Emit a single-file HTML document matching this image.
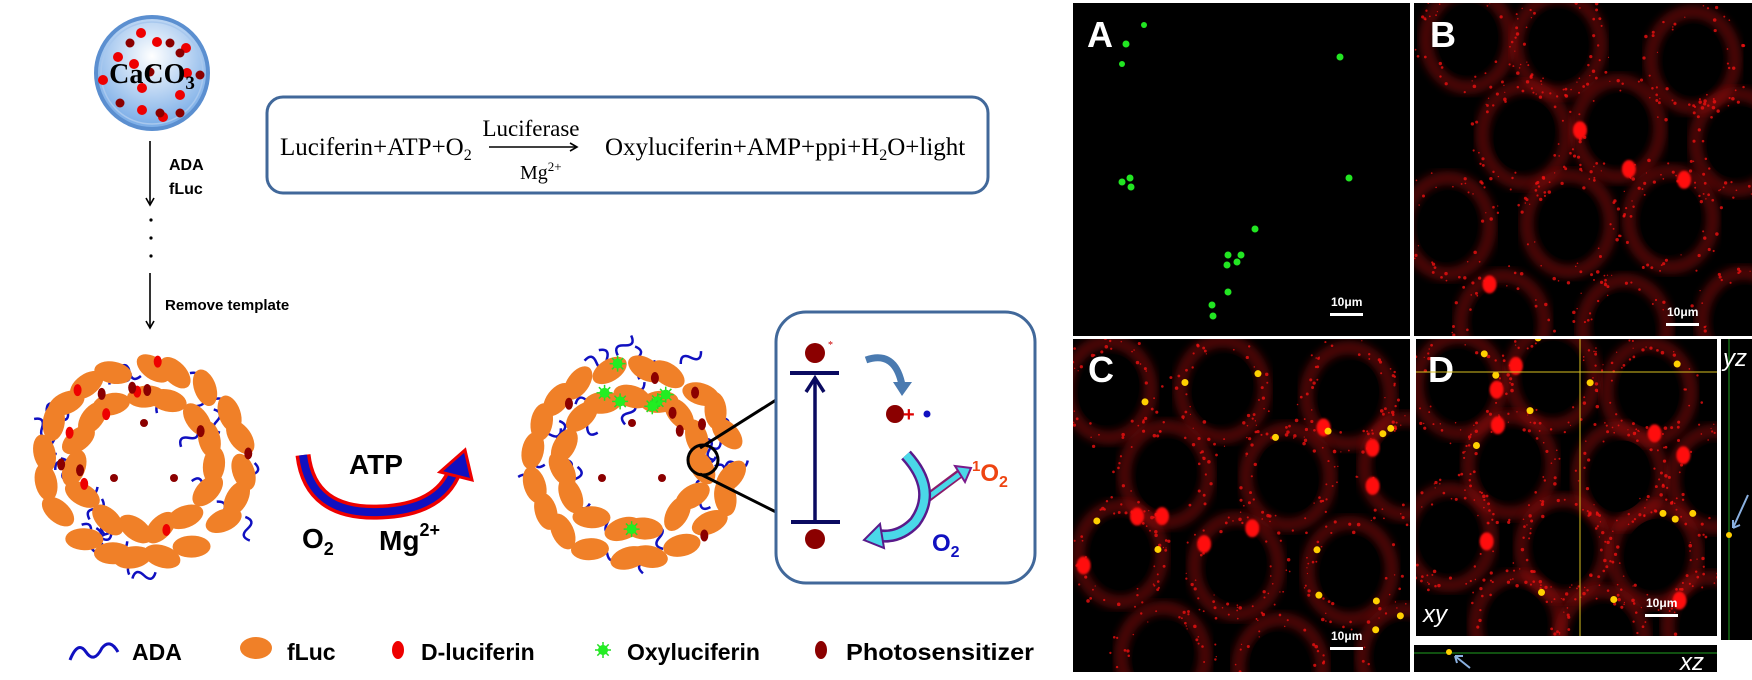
<!DOCTYPE html>
<html><head><meta charset="utf-8"><style>
html,body{margin:0;padding:0;background:#fff;width:1752px;height:680px;overflow:hidden;}
svg{display:block;}
.b{font-family:"Liberation Sans",Arial,sans-serif;font-weight:bold;}
.t{font-family:"Liberation Serif","Times New Roman",serif;}
</style></head><body>
<svg id="s" width="1752" height="680" viewBox="0 0 1752 680" xmlns="http://www.w3.org/2000/svg" style="overflow:hidden">
<defs>
<radialGradient id="cg" cx="50%" cy="35%" r="60%"><stop offset="0" stop-color="#ffffff"/><stop offset="1" stop-color="#7fb0e8"/></radialGradient>
<filter id="bl"><feGaussianBlur stdDeviation="4"/></filter>
<filter id="bl2"><feGaussianBlur stdDeviation="1"/></filter>
<marker id="ah" markerWidth="10" markerHeight="10" refX="8" refY="5" orient="auto" markerUnits="userSpaceOnUse"><path d="M1,1 L8,5 L1,9" fill="none" stroke="#000" stroke-width="1.6"/></marker>
</defs>
<circle cx="152" cy="73" r="56" fill="url(#cg)" stroke="#5b8fd0" stroke-width="4"/>
<circle cx="152" cy="73" r="51" fill="none" stroke="#a8c8ee" stroke-width="1.5"/>
<g fill="#ee0000">
<circle cx="141" cy="33" r="5"/><circle cx="157" cy="42" r="5"/><circle cx="186" cy="48" r="5"/><circle cx="118" cy="57" r="5"/><circle cx="134" cy="64" r="5"/><circle cx="187" cy="73" r="5"/><circle cx="103" cy="80" r="5"/><circle cx="142" cy="88" r="5"/><circle cx="180" cy="95" r="5"/><circle cx="142" cy="110" r="5"/><circle cx="163" cy="117" r="5"/></g>
<g fill="#8b0000"><circle cx="130" cy="43" r="4.5"/><circle cx="170" cy="43" r="4.5"/><circle cx="180" cy="53" r="4.5"/><circle cx="200" cy="75" r="4.5"/><circle cx="150" cy="72" r="4.5"/><circle cx="120" cy="103" r="4.5"/><circle cx="160" cy="113" r="4.5"/><circle cx="180" cy="113" r="4.5"/></g>
<text x="152" y="83" text-anchor="middle" class="t" font-weight="bold" font-size="28">CaCO<tspan font-size="19" dy="6">3</tspan></text>
<line x1="150" y1="141" x2="150" y2="205" stroke="#000" stroke-width="1.6" marker-end="url(#ah)"/>
<text x="169" y="170" class="b" font-size="16">ADA</text>
<text x="169" y="194" class="b" font-size="16">fLuc</text>
<circle cx="151" cy="220" r="1.6"/><circle cx="151" cy="238" r="1.6"/><circle cx="151" cy="256" r="1.6"/>
<line x1="150" y1="273" x2="150" y2="328" stroke="#000" stroke-width="1.6" marker-end="url(#ah)"/>
<text x="165" y="310" class="b" font-size="15">Remove template</text>
<rect x="267" y="97" width="721" height="96" rx="16" fill="#fff" stroke="#41689a" stroke-width="3"/>
<text x="280" y="155" class="t" font-size="25">Luciferin+ATP+O<tspan font-size="16" dy="5">2</tspan></text>
<text x="531" y="136" class="t" font-size="23" text-anchor="middle">Luciferase</text>
<line x1="489" y1="147" x2="577" y2="147" stroke="#000" stroke-width="1.5" marker-end="url(#ah)"/>
<text x="520" y="179" class="t" font-size="20">Mg<tspan font-size="13" dy="-8">2+</tspan></text>
<text x="605" y="155" class="t" font-size="25">Oxyluciferin+AMP+ppi+H<tspan font-size="16" dy="5">2</tspan><tspan dy="-5">O+light</tspan></text>
<g id="cap1"></g><g id="cap2"></g>
<path d="M303,455 Q310,515 380,512 Q440,510 455,470" fill="none" stroke="#e00" stroke-width="15"/>
<path d="M303,455 Q310,515 380,512 Q440,510 455,470" fill="none" stroke="#1010c0" stroke-width="8"/>
<polygon points="440,472 465,450 472,480" fill="#1010c0" stroke="#e00" stroke-width="3"/>
<text x="376" y="474" class="b" font-size="28" text-anchor="middle">ATP</text>
<text x="302" y="548" class="b" font-size="28">O<tspan font-size="18" dy="7">2</tspan></text>
<text x="379" y="550" class="b" font-size="28">Mg<tspan font-size="18" dy="-14">2+</tspan></text>
<line x1="700" y1="448" x2="776" y2="400" stroke="#000" stroke-width="3"/>
<line x1="700" y1="474" x2="776" y2="512" stroke="#000" stroke-width="3"/>
<rect x="776" y="312" width="259" height="271" rx="30" fill="#fff" stroke="#41689a" stroke-width="3"/>
<circle cx="815" cy="353" r="10" fill="#8b0000"/><text x="828" y="348" fill="#c00" font-size="10">*</text>
<line x1="790" y1="373" x2="839" y2="373" stroke="#0a0a60" stroke-width="4"/>
<line x1="791" y1="522" x2="840" y2="522" stroke="#0a0a60" stroke-width="4"/>
<line x1="815" y1="522" x2="815" y2="378" stroke="#0a0a60" stroke-width="3.5"/>
<path d="M806,392 L815,378 L824,392" fill="none" stroke="#0a0a60" stroke-width="3.5"/>
<circle cx="815" cy="539" r="10" fill="#8b0000"/>
<path d="M866,360 Q895,350 902,385" fill="none" stroke="#4a7ab0" stroke-width="7"/>
<polygon points="893,382 912,382 902,396" fill="#4a7ab0"/>
<circle cx="895" cy="414" r="9" fill="#8b0000"/>
<text x="903" y="421" fill="#d00" font-size="20" class="b">+</text>
<circle cx="927" cy="414" r="3.5" fill="#1010c0"/>
<path d="M922,502 L962,472" stroke="#8b1a6a" stroke-width="9"/>
<path d="M922,502 L960,474" stroke="#4ad8e8" stroke-width="5"/>
<polygon points="955,466 971,468 965,482" fill="#4ad8e8" stroke="#7a1a8a" stroke-width="2"/>
<path d="M906,455 Q938,490 915,522 Q898,540 875,535" fill="none" stroke="#5a1a8a" stroke-width="13"/>
<path d="M906,455 Q938,490 915,522 Q898,540 875,535" fill="none" stroke="#4ad8e8" stroke-width="8"/>
<polygon points="880,524 864,540 884,548" fill="#4ad8e8" stroke="#5a1a8a" stroke-width="2"/>
<text x="972" y="481" fill="#ee4411" class="b" font-size="24"><tspan font-size="15" dy="-10">1</tspan><tspan dy="10">O</tspan><tspan font-size="16" dy="6">2</tspan></text>
<text x="932" y="551" fill="#1010c0" class="b" font-size="24">O<tspan font-size="16" dy="6">2</tspan></text>
<path d="M70,660 Q78,640 86,652 Q94,664 102,648 Q110,638 118,652" fill="none" stroke="#1010c0" stroke-width="3"/>
<text x="132" y="660" class="b" font-size="23">ADA</text>
<ellipse cx="256" cy="648" rx="16" ry="11" fill="#f08028"/>
<text x="287" y="660" class="b" font-size="23">fLuc</text>
<ellipse cx="398" cy="650" rx="6" ry="9" fill="#ee0000"/>
<text x="421" y="660" class="b" font-size="23">D-luciferin</text>
<g id="lstar"></g>
<text x="627" y="660" class="b" font-size="23">Oxyluciferin</text>
<ellipse cx="821" cy="650" rx="6" ry="9" fill="#8b0000"/>
<text x="846" y="660" class="b" font-size="23" textLength="188" lengthAdjust="spacingAndGlyphs">Photosensitizer</text>
<rect x="1073" y="3" width="337" height="333" fill="#000"/>
<rect x="1414" y="3" width="338" height="333" fill="#000"/>
<rect x="1073" y="339" width="337" height="333" fill="#000"/>
<rect x="1416" y="339" width="301" height="297" fill="#000"/>
<rect x="1721" y="339" width="31" height="301" fill="#000"/>
<rect x="1414" y="645" width="303" height="27" fill="#000"/>
<g id="cellsB"></g><g id="cellsC"></g><g id="cellsD"></g>
<g fill="#22e622">
<circle cx="1144" cy="25" r="3"/><circle cx="1126" cy="44" r="3.5"/><circle cx="1122" cy="64" r="3"/><circle cx="1340" cy="57" r="3.5"/><circle cx="1349" cy="178" r="3.5"/><circle cx="1122" cy="182" r="3.5"/><circle cx="1130" cy="178" r="3.5"/><circle cx="1131" cy="187" r="3.5"/><circle cx="1255" cy="229" r="3.5"/><circle cx="1228" cy="255" r="3.5"/><circle cx="1237" cy="262" r="3.5"/><circle cx="1241" cy="255" r="3.5"/><circle cx="1227" cy="265" r="3.5"/><circle cx="1228" cy="292" r="3.5"/><circle cx="1212" cy="305" r="3.5"/><circle cx="1213" cy="316" r="3.5"/></g>
<g class="b" fill="#fff" font-size="36">
<text x="1087" y="47">A</text><text x="1430" y="47">B</text><text x="1088" y="382">C</text><text x="1428" y="382">D</text></g>
<g class="b" fill="#fff" font-size="12">
<text x="1331" y="306">10μm</text><rect x="1330" y="313" width="33" height="3"/>
<text x="1667" y="316">10μm</text><rect x="1666" y="323" width="33" height="3"/>
<text x="1331" y="640">10μm</text><rect x="1330" y="647" width="33" height="3"/>
<text x="1646" y="607">10μm</text><rect x="1645" y="614" width="33" height="3"/>
</g>
<line x1="1416" y1="372" x2="1717" y2="372" stroke="#d8c020" stroke-width="1"/>
<line x1="1580" y1="339" x2="1580" y2="636" stroke="#d8c020" stroke-width="1"/>
<line x1="1729" y1="339" x2="1729" y2="640" stroke="#20a020" stroke-width="1"/>
<line x1="1414" y1="653" x2="1717" y2="653" stroke="#20a020" stroke-width="1"/>
<circle cx="1729" cy="535" r="3" fill="#ffd000"/><circle cx="1449" cy="652" r="3" fill="#ffd000"/>
<path d="M1748,495 L1733,528 M1733,528 l0,-8 M1733,528 l7,-3" stroke="#8ab0e0" stroke-width="2" fill="none"/>
<path d="M1470,668 L1455,656 M1455,656 l8,0 M1455,656 l2,7" stroke="#8ab0e0" stroke-width="2" fill="none"/>
<g fill="#fff" font-family="Liberation Sans,sans-serif" font-style="italic" font-size="24">
<text x="1423" y="622">xy</text><text x="1723" y="366">yz</text><text x="1680" y="670">xz</text></g>
</svg>
<script>
var NS="http://www.w3.org/2000/svg";
function el(p,t,a){var e=document.createElementNS(NS,t);for(var k in a)e.setAttribute(k,a[k]);p.appendChild(e);return e;}
var seed=7;function r(){seed=(seed*16807)%2147483647;return (seed-1)/2147483646;}
function star(g,x,y){for(var i=0;i<8;i++){var a=i*Math.PI/4;el(g,"line",{x1:x,y1:y,x2:x+8*Math.cos(a),y2:y+8*Math.sin(a),stroke:"#22dd22","stroke-width":1.5});}el(g,"circle",{cx:x,cy:y,r:5,fill:"#22ee22"});}
function capsule(id,cx,cy,green){var g=document.getElementById(id);
 var rings=[[100,20],[70,15]];
 for(var i=0;i<30;i++){var a=r()*6.283,rr=60+r()*55;var x=cx+rr*Math.cos(a),y=cy+rr*Math.sin(a);
  el(g,"path",{d:"M"+x+","+y+" q6,-10 12,0 q6,10 12,0",fill:"none",stroke:"#1010c0","stroke-width":2.5,transform:"rotate("+(r()*360)+" "+x+" "+y+")"});}
 rings.forEach(function(R){var n=R[1];for(var i=0;i<n;i++){var a=i*6.283/n+r()*0.15;var x=cx+R[0]*Math.cos(a),y=cy+R[0]*Math.sin(a)*0.95;
  el(g,"ellipse",{cx:x,cy:y,rx:19,ry:11,fill:"#f08028",transform:"rotate("+(a*57.3+90+(r()-0.5)*70)+" "+x+" "+y+")"});}});
 for(var i=0;i<14;i++){var a=r()*6.283,rr=55+r()*50;var x=cx+rr*Math.cos(a),y=cy+rr*Math.sin(a);
  if(green&&i%2==0)star(g,x,y);else el(g,"ellipse",{cx:x,cy:y,rx:4,ry:6,fill:(green||i%2)?"#8b0000":"#ee0000"});}
 [[0,-40],[-30,15],[30,15]].forEach(function(p){el(g,"circle",{cx:cx+p[0],cy:cy+p[1],r:4,fill:"#8b0000"});});}
capsule("cap1",144,463,false);capsule("cap2",632,463,true);
star(document.getElementById("lstar"),603,650);
el(document.getElementById("cap2"),"circle",{cx:703,cy:460,r:15,fill:"none",stroke:"#000","stroke-width":3});
function cells(id,x0,y0,w,h,yel){var g=document.getElementById(id);
 var cs=document.createElementNS(NS,"clipPath");cs.setAttribute("id","c"+id);el(cs,"rect",{x:x0,y:y0,width:w,height:h});g.appendChild(cs);
 var gg=el(g,"g",{"clip-path":"url(#c"+id+")"});
 var pts=[];for(var j=0;j<4;j++)for(var i=0;i<3;i++){pts.push([x0+30+i*w/3+(j%2)*w/6+r()*25,y0+j*h/3.7+35+r()*25]);}
 pts.forEach(function(p){el(gg,"ellipse",{cx:p[0],cy:p[1],rx:42,ry:48,fill:"none",stroke:"#a01010","stroke-width":14,opacity:0.45,filter:"url(#bl)"});});
 pts.forEach(function(p){el(gg,"ellipse",{cx:p[0],cy:p[1],rx:30,ry:36,fill:"#000",transform:"rotate("+(r()*40-20)+" "+p[0]+" "+p[1]+")"});});
 for(var i=0;i<550;i++){var p=pts[Math.floor(r()*pts.length)],a=r()*6.283,d=34+r()*20;el(gg,"circle",{cx:p[0]+d*Math.cos(a),cy:p[1]+d*1.1*Math.sin(a),r:0.6+r()*1.2,fill:"#ee1010",opacity:0.8});}
 for(var i=0;i<8;i++){var p=pts[Math.floor(r()*pts.length)],a=r()*6.283;el(gg,"ellipse",{cx:p[0]+38*Math.cos(a),cy:p[1]+42*Math.sin(a),rx:7,ry:9,fill:"#ff1010",filter:"url(#bl2)"});}
 if(yel)for(var i=0;i<16;i++){var p=pts[Math.floor(r()*pts.length)],a=r()*6.283;el(gg,"circle",{cx:p[0]+38*Math.cos(a),cy:p[1]+42*Math.sin(a),r:3.5,fill:"#ffd000"});}}
cells("cellsB",1414,3,338,333,false);cells("cellsC",1073,339,337,333,true);cells("cellsD",1416,339,301,297,true);
</script>
</body></html>
